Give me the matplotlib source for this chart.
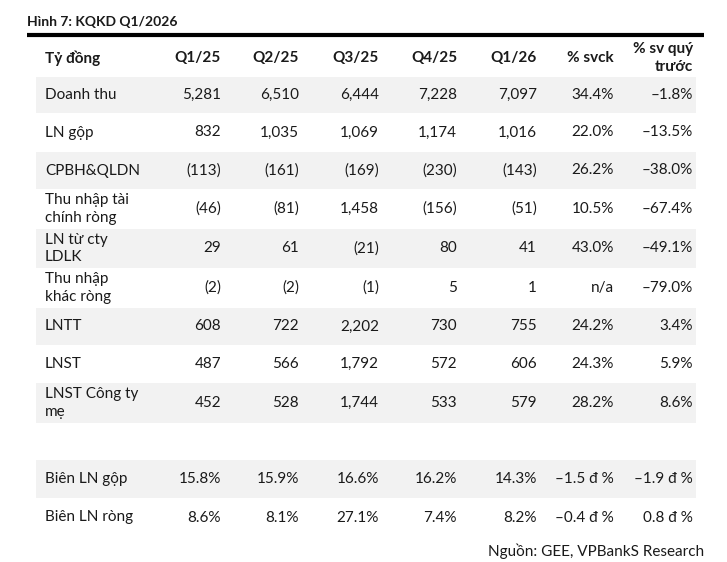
import matplotlib.pyplot as plt
from matplotlib.patches import Rectangle

plt.rcParams['font.family'] = ['Lato', 'DejaVu Sans']

# table data
title = 'Hình 7: KQKD Q1/2026'
header = ['Tỷ đồng', 'Q1/25', 'Q2/25', 'Q3/25', 'Q4/25', 'Q1/26', '% svck', '% sv quý\ntrước']
row_labels = ['Doanh thu', 'LN gộp', 'CPBH&QLDN', 'Thu nhập tài\nchính ròng', 'LN từ cty\nLDLK',
              'Thu nhập\nkhác ròng', 'LNTT', 'LNST', 'LNST Công ty\nmẹ', '',
              'Biên LN gộp', 'Biên LN ròng']
q1_25 = ['5,281', '832', '(113)', '(46)', '29', '(2)', '608', '487', '452', '', '15.8%', '8.6%']
q2_25 = ['6,510', '1,035', '(161)', '(81)', '61', '(2)', '722', '566', '528', '', '15.9%', '8.1%']
q3_25 = ['6,444', '1,069', '(169)', '1,458', '(21)', '(1)', '2,202', '1,792', '1,744', '', '16.6%', '27.1%']
q4_25 = ['7,228', '1,174', '(230)', '(156)', '80', '5', '730', '572', '533', '', '16.2%', '7.4%']
q1_26 = ['7,097', '1,016', '(143)', '(51)', '41', '1', '755', '606', '579', '', '14.3%', '8.2%']
svck = ['34.4%', '22.0%', '26.2%', '10.5%', '43.0%', 'n/a', '24.2%', '24.3%', '28.2%', '', '–1.5 đ %', '–0.4 đ %']
sv_qoq = ['–1.8%', '–13.5%', '–38.0%', '–67.4%', '–49.1%', '–79.0%', '3.4%', '5.9%', '8.6%', '', '–1.9 đ %', '0.8 đ %']
source = 'Nguồn: GEE, VPBankS Research'

columns = [q1_25, q2_25, q3_25, q4_25, q1_26, svck, sv_qoq]

# layout (pixels)
row_bounds = [77, 113, 152, 189, 229, 268, 308, 345, 383, 423, 460, 498, 537]
shaded = [0, 2, 4, 6, 8, 10]
col_right = [221, 299, 379, 457, 537, 614, 693]
label_x = 45
text_color = '#1a1a1a'
fs = 11

fig = plt.figure(figsize=(7.27, 5.62), dpi=100)
ax = fig.add_axes([0, 0, 1, 1])
ax.set_xlim(0, 727)
ax.set_ylim(562, 0)
ax.axis('off')

ax.text(27, 22, title, fontsize=10, fontweight='bold', color=text_color, va='center', ha='left')
ax.plot([27, 704], [35, 35], color='black', lw=3, solid_capstyle='butt')

# header
ax.text(label_x, 58, header[0], fontsize=fs, fontweight='bold', color=text_color, va='center')
for x, h in zip(col_right, header[1:]):
    ax.text(x, 58, h, fontsize=fs, fontweight='bold', color=text_color, va='center', ha='right',
            multialignment='right', linespacing=1.32)

# body
for i, lab in enumerate(row_labels):
    top, bot = row_bounds[i], row_bounds[i + 1]
    yc = (top + bot) / 2
    if i in shaded:
        ax.add_patch(Rectangle((36, top), 696 - 36, bot - top, color='#f2f2f2', lw=0, zorder=0))
    if lab:
        ax.text(label_x, yc, lab, fontsize=fs, color=text_color, va='center', ha='left', linespacing=1.32)
    for x, col in zip(col_right, columns):
        ax.text(x, yc, col[i], fontsize=fs, color=text_color, va='center', ha='right')

ax.text(704, 551, source, fontsize=fs, color=text_color, va='center', ha='right')

fig.savefig('out.png', dpi=100)
